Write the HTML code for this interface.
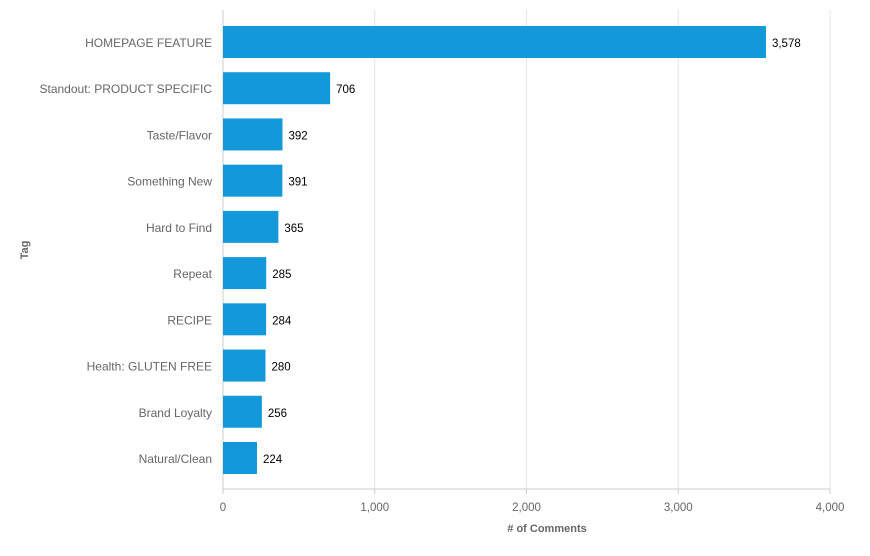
<!DOCTYPE html>
<html><head><meta charset="utf-8"><style>
body{margin:0;background:#fff;}
svg text{font-family:"Liberation Sans",Arial,sans-serif;}
</style></head><body>
<svg id="chart" width="870" height="551"></svg>
<script>
const categories=["HOMEPAGE FEATURE","Standout: PRODUCT SPECIFIC","Taste/Flavor","Something New","Hard to Find","Repeat","RECIPE","Health: GLUTEN FREE","Brand Loyalty","Natural/Clean"];
const values=[3578,706,392,391,365,285,284,280,256,224];
const ticks=[0,1000,2000,3000,4000];
const valueLabels=["3,578","706","392","391","365","285","284","280","256","224"];
const tickLabels=["0","1,000","2,000","3,000","4,000"];

const NS="http://www.w3.org/2000/svg";
const svg=document.getElementById('chart');
const x0=223,x1=830,yTop=10,yBot=489,maxV=4000;
const xs=v=>x0+(v/maxV)*(x1-x0);
const yc=i=>42+i*46.22;
function mk(tag,attrs,text){const e=document.createElementNS(NS,tag);for(const k in attrs)e.setAttribute(k,attrs[k]);if(text!==undefined)e.textContent=text;svg.appendChild(e);return e;}

ticks.forEach((t,i)=>{
  if(t>0){const g=mk('line',{x1:xs(t),x2:xs(t),y1:yTop,y2:yBot,stroke:'#e6e6e6','stroke-width':1});
  
  }
  const tk=mk('line',{x1:xs(t),x2:xs(t),y1:yBot,y2:yBot+5,stroke:'#ccc'});
  
  
  const l=mk('text',{x:xs(t),y:511,'text-anchor':'middle','font-size':11.5,fill:'#666'},tickLabels[i]);
  
  
});
const ax=mk('line',{x1:x0,x2:x1,y1:yBot,y2:yBot,stroke:'#ccc'});


const ay=mk('line',{x1:x0,x2:x0,y1:yTop,y2:yBot,stroke:'#ccc'});



categories.forEach((c,i)=>{
  const cy=yc(i);
  const b=mk('rect',{x:x0,y:cy-16,width:xs(values[i])-x0,height:32,fill:'#1399d9'});
  
  
  const cl=mk('text',{x:212,y:cy+5,'text-anchor':'end','font-size':12,fill:'#666'},c);
  
  
  const vl=mk('text',{x:xs(values[i])+6,y:cy+5,'font-size':11.5,fill:'#000'},valueLabels[i]);
  
  
});
const xt=mk('text',{x:547,y:532,'text-anchor':'middle','font-size':11,'font-weight':'bold',fill:'#666'},'# of Comments');


const yt=mk('text',{x:28,y:250,'text-anchor':'middle','font-size':11,'font-weight':'bold',fill:'#666',transform:'rotate(-90 28 250)'},'Tag');


</script>
</body></html>
